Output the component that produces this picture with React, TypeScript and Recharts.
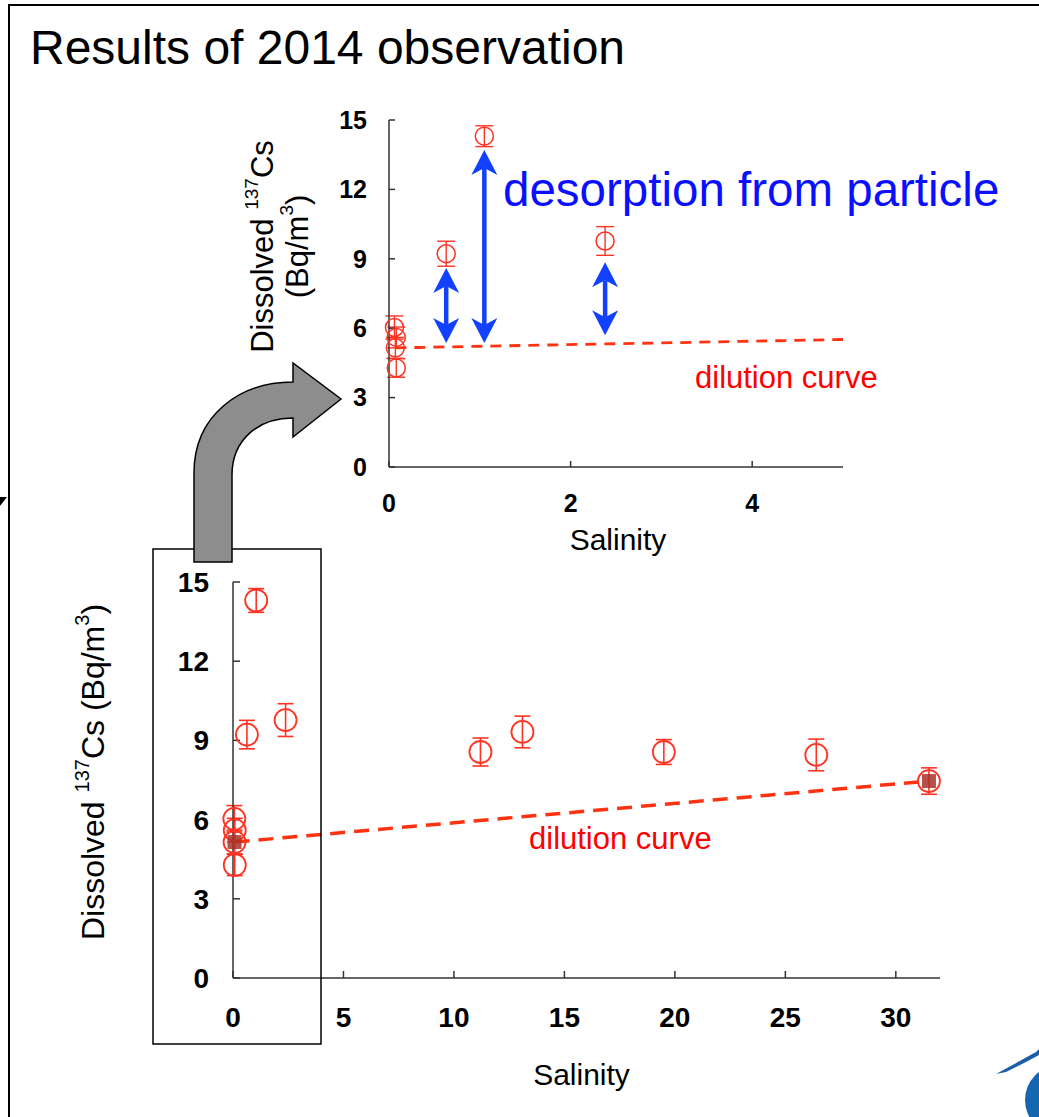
import React from "react";
import { ScatterChart, Scatter, XAxis, YAxis, ErrorBar, ReferenceLine } from "recharts";

// dissolved 137Cs (Bq/m3) against salinity, 2014 observation
const salinity = [0.06, 0.08, 0.07, 0.08, 0.63, 1.05, 2.38, 11.2, 13.1, 19.5, 26.4, 31.5];
const cs137 = [6.03, 5.6, 5.15, 4.28, 9.22, 14.3, 9.77, 8.56, 9.32, 8.56, 8.45, 7.46];
const cs137Err = [0.5, 0.45, 0.45, 0.4, 0.54, 0.45, 0.62, 0.53, 0.6, 0.47, 0.6, 0.5];

// dilution curve end members (river water / sea water)
const dilutionSalinity = [0.07, 31.5];
const dilutionCs = [5.15, 7.46];

// desorption arrows drawn in the inset
const arrowSalinity = [0.63, 1.05, 2.38];
const arrowFrom = [5.36, 5.36, 5.7];
const arrowTo = [8.6, 13.7, 8.85];

const yTicks = [0, 3, 6, 9, 12, 15];
const mainXTicks = [0, 5, 10, 15, 20, 25, 30];
const insetXTicks = [0, 2, 4];

const FONT = '"Liberation Sans", Arial, Helvetica, sans-serif';
const RED = "#ff3322";
const DASH_RED = "#ff3311";
const BLUE = "#1240ff";
const AXIS = "#333";

const points = salinity.map((s, i) => ({ s, cs: cs137[i], err: cs137Err[i] }));
const insetPoints = points.filter((p) => p.s <= 5);
const dilution = dilutionSalinity.map((s, i) => ({ s, cs: dilutionCs[i] }));
const arrows = arrowSalinity.map((s, i) => ({ s, from: arrowFrom[i], to: arrowTo[i] }));

const mainCircle = (p: any) => (
  <circle cx={p.cx} cy={p.cy} r={11} fill="none" stroke={RED} strokeWidth={1.8} />
);
const insetCircle = (p: any) => (
  <circle cx={p.cx} cy={p.cy} r={9} fill="none" stroke={RED} strokeWidth={1.5} />
);
const endMember = (p: any) => (
  <rect x={p.cx - 7} y={p.cy - 7} width={14} height={14} fill="#a8322a" opacity={0.85} />
);
const noMarker = () => <g />;

const doubleArrow = (p: any) => {
  const x = p.x1;
  const top = Math.min(p.y1, p.y2);
  const bot = Math.max(p.y1, p.y2);
  const hw = 13, hh = 25, notch = 18;
  return (
    <g>
      <line x1={x} x2={x} y1={top + notch} y2={bot - notch} stroke={BLUE} strokeWidth={4.5} />
      <path d={`M${x},${top} L${x + hw},${top + hh} L${x},${top + notch} L${x - hw},${top + hh} Z`} fill={BLUE} />
      <path d={`M${x},${bot} L${x + hw},${bot - hh} L${x},${bot - notch} L${x - hw},${bot - hh} Z`} fill={BLUE} />
    </g>
  );
};

const mainYLabel = ({ viewBox }: any) => {
  const cx = viewBox.x + viewBox.width - 140;
  const cy = viewBox.y + viewBox.height / 2 - 8;
  return (
    <text x={cx} y={cy} transform={`rotate(-90 ${cx} ${cy})`} textAnchor="middle"
      dominantBaseline="central" fontSize={32} fontFamily={FONT} fill="#000">
      Dissolved <tspan fontSize={20} dy={-11}>137</tspan>
      <tspan dy={11}>Cs (Bq/m</tspan>
      <tspan fontSize={20} dy={-11}>3</tspan>
      <tspan dy={11}>)</tspan>
    </text>
  );
};

const insetYLabel = ({ viewBox }: any) => {
  const left = viewBox.x + viewBox.width;
  const cy = viewBox.y + viewBox.height / 2 - 47;
  const x1 = left - 127;
  const x2 = left - 92;
  return (
    <g fontSize={31} fontFamily={FONT} fill="#000">
      <text x={x1} y={cy} transform={`rotate(-90 ${x1} ${cy})`} textAnchor="middle" dominantBaseline="central">
        Dissolved <tspan fontSize={19} dy={-11}>137</tspan>
        <tspan dy={11}>Cs</tspan>
      </text>
      <text x={x2} y={cy} transform={`rotate(-90 ${x2} ${cy})`} textAnchor="middle" dominantBaseline="central">
        (Bq/m<tspan fontSize={19} dy={-11}>3</tspan>
        <tspan dy={11}>)</tspan>
      </text>
    </g>
  );
};

const xLabel = (dy: number, dx: number) => ({ viewBox }: any) => (
  <text x={viewBox.x + viewBox.width / 2 + dx} y={viewBox.y + dy} textAnchor="middle"
    fontSize={30} fontFamily={FONT} fill="#000">
    Salinity
  </text>
);

const axisLine = { stroke: AXIS, strokeWidth: 1.5 };

export default function App() {
  return (
    <div style={{ position: "absolute", left: 0, top: 0, width: 1039, height: 1117, background: "#fff", overflow: "hidden", fontFamily: FONT }}>
      {/* full range */}
      <div style={{ position: "absolute", left: 40, top: 540 }}>
        <ScatterChart width={940} height={560} margin={{ top: 42, right: 40, bottom: 62, left: 133 }}>
          <XAxis type="number" dataKey="s" domain={[0, 32]} ticks={mainXTicks} interval={0} height={60}
            axisLine={axisLine} tickLine={axisLine} tickSize={-7} tickMargin={36}
            tick={{ fontSize: 28, fontWeight: 700, fill: "#000", fontFamily: FONT }}
            label={xLabel(107, -5)} />
          <YAxis type="number" dataKey="cs" domain={[0, 15]} ticks={yTicks} interval={0} width={60}
            axisLine={axisLine} tickLine={axisLine} tickSize={-7} tickMargin={31}
            tick={{ fontSize: 28, fontWeight: 700, fill: "#000", fontFamily: FONT }}
            label={mainYLabel} />
          <Scatter data={points} fill={RED} shape={mainCircle} isAnimationActive={false}>
            <ErrorBar dataKey="err" direction="y" width={8} stroke={RED} strokeWidth={1.6} />
          </Scatter>
          <Scatter data={dilution} fill={DASH_RED} shape={endMember} isAnimationActive={false}
            line={{ stroke: DASH_RED, strokeWidth: 3.5, strokeDasharray: "15 9" }} />
        </ScatterChart>
      </div>

      {/* inset, salinity 0-5 */}
      <div style={{ position: "absolute", left: 200, top: 100 }}>
        <ScatterChart width={690} height={460} margin={{ top: 20, right: 47, bottom: 53, left: 129 }}>
          <XAxis type="number" dataKey="s" domain={[0, 5]} ticks={insetXTicks} interval={0} height={40}
            axisLine={axisLine} tickLine={axisLine} tickSize={-6} tickMargin={33}
            tick={{ fontSize: 25, fontWeight: 700, fill: "#000", fontFamily: FONT }}
            label={xLabel(83, 2)} />
          <XAxis xAxisId="clip" type="number" dataKey="s" domain={[0, 5]} allowDataOverflow hide />
          <YAxis type="number" dataKey="cs" domain={[0, 15]} ticks={yTicks} interval={0} width={60}
            axisLine={axisLine} tickLine={axisLine} tickSize={-6} tickMargin={28}
            tick={{ fontSize: 25, fontWeight: 700, fill: "#000", fontFamily: FONT }}
            label={insetYLabel} />
          <Scatter xAxisId="clip" data={dilution} fill={DASH_RED} shape={noMarker} isAnimationActive={false}
            line={{ stroke: DASH_RED, strokeWidth: 2.8, strokeDasharray: "11 8" }} />
          <Scatter data={insetPoints} fill={RED} shape={insetCircle} isAnimationActive={false}>
            <ErrorBar dataKey="err" direction="y" width={9} stroke={RED} strokeWidth={1.4} />
          </Scatter>
          {arrows.map((a) => (
            <ReferenceLine key={a.s} segment={[{ x: a.s, y: a.from }, { x: a.s, y: a.to }]} shape={doubleArrow} />
          ))}
        </ScatterChart>
      </div>

      {/* slide decorations and annotations */}
      <svg width={1039} height={1117} style={{ position: "absolute", left: 0, top: 0, pointerEvents: "none" }}
        fontFamily={FONT}>
        <line x1={8} y1={5} x2={1039} y2={5} stroke="#000" strokeWidth={2} />
        <line x1={9} y1={4} x2={9} y2={1117} stroke="#000" strokeWidth={2} />
        <polygon points="0,497 7,497 0,506" fill="#000" />
        <text x={30} y={64} fontSize={48} fill="#000">Results of 2014 observation</text>
        <text x={503} y={206} fontSize={47.5} fill="#0a10ff">desorption from particle</text>
        <text x={695} y={388} fontSize={31} fill="#ff0000">dilution curve</text>
        <text x={529} y={849} fontSize={31} fill="#ff0000">dilution curve</text>
        <rect x={153} y={549} width={168} height={495} fill="none" stroke="#000" strokeWidth={1.5} />
        <path d="M194,562 L194,473 C194,415 240,382 293,382 L293,363 L341,399 L293,437 L293,418 C258,418 232,440 232,475 L232,562 Z"
          fill="#8d8d8d" stroke="#000" strokeWidth={1.5} />
        <polygon points="996,1074 1036,1052 1039,1049 1039,1055 1026,1062 1006,1072" fill="#1a5fa8" />
        <circle cx={1060} cy={1100} r={35} fill="#1565b0" />
      </svg>
    </div>
  );
}
